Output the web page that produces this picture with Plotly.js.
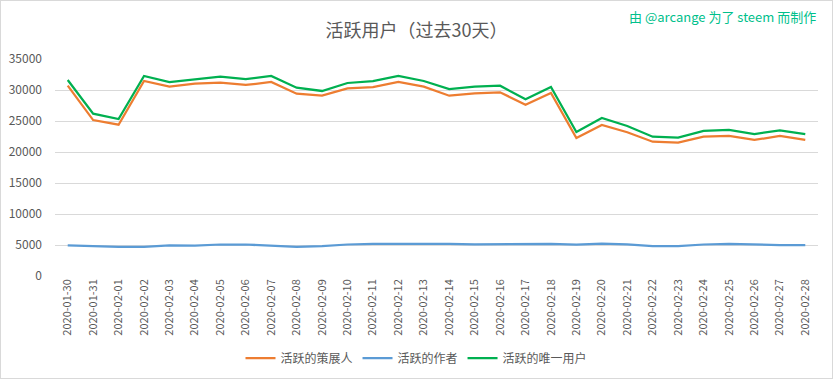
<!DOCTYPE html>
<html>
<head>
<meta charset="utf-8">
<script src="https://cdn.plot.ly/plotly-3.0.1.min.js"></script>
<style>
html,body{margin:0;padding:0;background:#fff;}
#chart{width:831px;height:377px;border:1px solid #d9d9d9;}
</style>
</head>
<body>
<div id="chart"></div>
<script>
const dates = ["2020-01-30","2020-01-31","2020-02-01","2020-02-02","2020-02-03","2020-02-04","2020-02-05","2020-02-06","2020-02-07","2020-02-08",
"2020-02-09","2020-02-10","2020-02-11","2020-02-12","2020-02-13","2020-02-14","2020-02-15","2020-02-16","2020-02-17","2020-02-18",
"2020-02-19","2020-02-20","2020-02-21","2020-02-22","2020-02-23","2020-02-24","2020-02-25","2020-02-26","2020-02-27","2020-02-28"];
const curators = [30700,25150,24400,31450,30530,31020,31180,30810,31290,29400,
29080,30270,30480,31290,30530,29080,29470,29630,27630,29520,
22260,24360,23180,21660,21500,22470,22580,21940,22580,21940];
const authors = [4950,4800,4680,4700,4930,4880,5080,5080,4920,4680,
4820,5080,5200,5220,5220,5200,5120,5120,5220,5200,
5080,5220,5120,4820,4830,5080,5200,5080,4980,4980];
const uniques = [31610,26180,25320,32260,31290,31770,32150,31770,32260,30370,
29840,31130,31450,32260,31450,30160,30530,30690,28500,30480,
23230,25480,24190,22470,22310,23390,23550,22900,23500,22900];
const seriesNames = ["活跃的策展人","活跃的作者","活跃的唯一用户"];
const yTicks = [0,5000,10000,15000,20000,25000,30000,35000];

const F = "'Noto Sans CJK SC', 'Noto Sans', sans-serif";
const mk = (y, name, color) => ({x: dates, y: y, name: name, type: 'scatter', mode: 'lines',
  line: {color: color, width: 2.25}});
const data = [
  mk(curators, seriesNames[0], '#ED7D31'),
  mk(authors, seriesNames[1], '#5B9BD5'),
  mk(uniques, seriesNames[2], '#00B050')
];
const H = 377;
const layout = {
  width: 831, height: H,
  margin: {l: 54, r: 14, t: 58, b: 102},
  paper_bgcolor: '#fff', plot_bgcolor: '#fff',
  font: {family: F, color: '#595959', size: 12},
  title: {text: '活跃用户（过去30天）', x: 0.5, xanchor: 'center', y: 1 - 30/H, yanchor: 'middle',
    font: {family: F, size: 18, color: '#595959'}},
  xaxis: {type: 'category', range: [-0.5, 29.5], tickangle: -90, showgrid: false, zeroline: false,
    showline: false, ticks: '', tickfont: {size: 11, color: '#595959', family: F}, automargin: false},
  yaxis: {range: [0, 35000], tickvals: yTicks, ticktext: yTicks.map(String), showgrid: true,
    gridcolor: '#d9d9d9', gridwidth: 1, zeroline: false, showline: false, ticks: '',
    ticklen: 0, ticklabelstandoff: 12, tickfont: {size: 12, color: '#595959', family: F}, automargin: false},
  showlegend: true,
  legend: {orientation: 'h', x: 0.5, xanchor: 'center', xref: 'container', yref: 'container',
    y: (H - 357)/H, yanchor: 'middle',
    font: {size: 12, color: '#595959', family: F}, itemwidth: 30, traceorder: 'normal'},
  annotations: [{text: '由 @arcange 为了 steem 而制作', xref: 'paper', yref: 'paper',
    x: 1.0, xanchor: 'right', y: (276 - 17)/217, yanchor: 'middle', showarrow: false,
    font: {size: 13, color: '#00C08B', family: F}}]
};
Plotly.newPlot('chart', data, layout, {displayModeBar: false, staticPlot: true});
</script>
</body>
</html>
